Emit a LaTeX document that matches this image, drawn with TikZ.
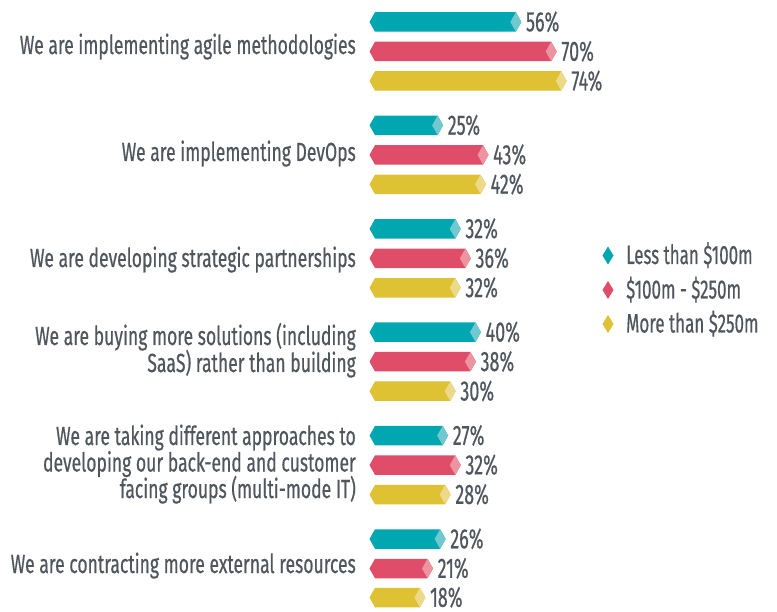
\documentclass[tikz,border=0pt]{standalone}
\usepackage{fontspec}
\setmainfont{Fira Sans}[FakeStretch=0.64,FakeBold=0.5]
\newfontfamily\lblfont{Fira Sans}[FakeStretch=0.67,FakeBold=0.5]
\definecolor{tealA}{HTML}{00A6B0}
\definecolor{tealL}{HTML}{72C8CF}
\definecolor{redA}{HTML}{E04D68}
\definecolor{redL}{HTML}{EC949F}
\definecolor{yelA}{HTML}{DFC234}
\definecolor{yelL}{HTML}{ECD98A}
\definecolor{txt}{HTML}{50565D}
\tikzset{
  pct/.style={inner sep=0pt, anchor=base west, text=txt, font=\fontsize{28}{30}\selectfont},
  lbl/.style={inner sep=0pt, anchor=base east, text=txt, font=\lblfont\fontsize{26.2}{27}\selectfont},
  leg/.style={inner sep=0pt, anchor=base west, text=txt, font=\fontsize{26.5}{28}\selectfont},
}
\newcommand\pctbar[5]{%
  \pgfmathsetmacro\xe{380+2.524*#3}%
  \fill[#4] (369.5,#2) -- (375,#2-9.75) -- (\xe-5.5,#2-9.75) -- (\xe,#2) -- (\xe-5.5,#2+9.75) -- (375,#2+9.75) -- cycle;
  \fill[#5] (\xe-11,#2) -- (\xe-5.5,#2-9.75) -- (\xe,#2) -- (\xe-5.5,#2+9.75) -- cycle;
  \node[pct] (#1) at (\xe+4.5,#2+9.3) {#3\%};
}
\begin{document}
\begin{tikzpicture}[x=1pt,y=-1pt]
\useasboundingbox (0,0) rectangle (777,612);
% group 1
\pctbar{p11}{22}{56}{tealA}{tealL}
\pctbar{p12}{51.5}{70}{redA}{redL}
\pctbar{p13}{81}{74}{yelA}{yelL}
% group 2
\pctbar{p21}{125.4}{25}{tealA}{tealL}
\pctbar{p22}{154.9}{43}{redA}{redL}
\pctbar{p23}{184.4}{42}{yelA}{yelL}
% group 3
\pctbar{p31}{228.8}{32}{tealA}{tealL}
\pctbar{p32}{258.3}{36}{redA}{redL}
\pctbar{p33}{287.8}{32}{yelA}{yelL}
% group 4
\pctbar{p41}{332.2}{40}{tealA}{tealL}
\pctbar{p42}{361.7}{38}{redA}{redL}
\pctbar{p43}{391.2}{30}{yelA}{yelL}
% group 5
\pctbar{p51}{435.6}{27}{tealA}{tealL}
\pctbar{p52}{465.1}{32}{redA}{redL}
\pctbar{p53}{494.6}{28}{yelA}{yelL}
% group 6
\pctbar{p61}{539}{26}{tealA}{tealL}
\pctbar{p62}{568.5}{21}{redA}{redL}
\pctbar{p63}{597.5}{18}{yelA}{yelL}
% labels
\node[lbl] (l1) at (356,54) {We are implementing agile methodologies};
\node[lbl] (l2) at (356,161) {We are implementing DevOps};
\node[lbl] (l3) at (356,267) {We are developing strategic partnerships};
\node[lbl] (l4a) at (356,345) {We are buying more solutions (including};
\node[lbl] (l4b) at (356,372) {SaaS) rather than building};
\node[lbl] (l5a) at (356,445) {We are taking different approaches to};
\node[lbl] (l5b) at (356,471.5) {developing our back-end and customer};
\node[lbl] (l5c) at (356,498) {facing groups (multi-mode IT)};
\node[lbl] (l6) at (356,573) {We are contracting more external resources};
% legend
\fill[tealA] (602.5,255.5) -- (608,246.5) -- (613.5,255.5) -- (608,264.5) -- cycle;
\fill[redA] (602.5,290) -- (608,281) -- (613.5,290) -- (608,299) -- cycle;
\fill[yelA] (602.5,324) -- (608,315) -- (613.5,324) -- (608,333) -- cycle;
\node[leg] (g1) at (626,264) {Less than \$100m};
\node[leg] (g2) at (626,298.5) {\$100m - \$250m};
\node[leg] (g3) at (626,332.5) {More than \$250m};
\end{tikzpicture}
\end{document}
